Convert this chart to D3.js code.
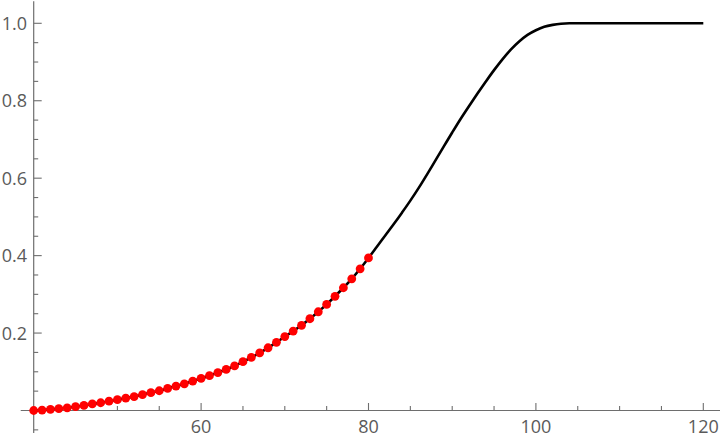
<!DOCTYPE html>
<html>
<head>
<meta charset="utf-8">
<script src="https://cdn.jsdelivr.net/npm/d3@7"></script>
<style>
  html, body { margin: 0; padding: 0; background: #fff; }
  svg { display: block; }
  text { font-family: "Open Sans", "Liberation Sans", sans-serif; }
</style>
</head>
<body>
<svg id="chart" width="720" height="440"></svg>
<script>
// Sample points (red dots)
const pointX = [40,41,42,43,44,45,46,47,48,49,50,51,52,53,54,55,56,57,58,59,60,
                61,62,63,64,65,66,67,68,69,70,71,72,73,74,75,76,77,78,79,80];
const pointY = [0.000,0.001,0.003,0.005,0.007,0.010,0.013,0.017,0.020,0.024,0.028,
                0.032,0.036,0.041,0.046,0.051,0.057,0.063,0.069,0.076,0.083,
                0.090,0.098,0.106,0.115,0.126,0.137,0.149,0.162,0.176,0.191,
                0.205,0.220,0.237,0.255,0.274,0.295,0.317,0.340,0.366,0.394];
// Continuation of the black curve beyond the samples
const extX = [81,82,83,84,85,86,87,88,89,90,91,92,93,94,95,96,97,98,99,100,
              101,102,103,104,105,106,110,115,120];
const extY = [0.423,0.452,0.481,0.511,0.542,0.575,0.610,0.646,0.682,0.718,
              0.753,0.786,0.818,0.849,0.879,0.907,0.932,0.953,0.970,0.982,
              0.991,0.996,0.999,1.000,1.000,1.000,1.000,1.000,1.000];
const xMajor = [60,80,100,120];
const xMajorLabels = ["60","80","100","120"];
const xMinor = [45,50,55,65,70,75,85,90,95,105,110,115];
const yMajor = [0.2,0.4,0.6,0.8,1.0];
const yMajorLabels = ["0.2","0.4","0.6","0.8","1.0"];
const yMinor = [-0.05,0.05,0.1,0.15,0.25,0.3,0.35,0.45,0.5,0.55,0.65,0.7,0.75,0.85,0.9,0.95];

const svg = d3.select("#chart");
const x = d3.scaleLinear().domain([40,120]).range([33.7,703.3]);
const y = d3.scaleLinear().domain([0,1]).range([410.5,23.3]);
const axisColor = "#6e6e6e";
const labelColor = "#5a5a5a";

const xAxisY = y(0), yAxisX = x(40);

// Axis lines
svg.append("line").attr("x1", x(38.45)).attr("x2", 720).attr("y1", xAxisY).attr("y2", xAxisY)
  .attr("stroke", axisColor).attr("stroke-width", 1.2);
svg.append("line").attr("x1", yAxisX).attr("x2", yAxisX).attr("y1", y(1.057)).attr("y2", y(-0.058))
  .attr("stroke", axisColor).attr("stroke-width", 1.2);

// X ticks
svg.selectAll(".xmaj").data(xMajor).enter().append("line")
  .attr("x1", d => x(d)).attr("x2", d => x(d)).attr("y1", xAxisY).attr("y2", xAxisY - 7.5)
  .attr("stroke", axisColor).attr("stroke-width", 1.1);
svg.selectAll(".xmin").data(xMinor).enter().append("line")
  .attr("x1", d => x(d)).attr("x2", d => x(d)).attr("y1", xAxisY).attr("y2", xAxisY - 4.5)
  .attr("stroke", axisColor).attr("stroke-width", 1.1);
svg.selectAll(".xlab").data(xMajor).enter().append("text")
  .attr("x", d => x(d)).attr("y", 433)
  .attr("text-anchor", "middle").attr("font-size", 18).attr("fill", labelColor)
  .text((d, i) => xMajorLabels[i]);

// Y ticks
svg.selectAll(".ymaj").data(yMajor).enter().append("line")
  .attr("x1", yAxisX).attr("x2", yAxisX + 8).attr("y1", d => y(d)).attr("y2", d => y(d))
  .attr("stroke", axisColor).attr("stroke-width", 1.1);
svg.selectAll(".ymin").data(yMinor).enter().append("line")
  .attr("x1", yAxisX).attr("x2", yAxisX + 4.5).attr("y1", d => y(d)).attr("y2", d => y(d))
  .attr("stroke", axisColor).attr("stroke-width", 1.1);
svg.selectAll(".ylab").data(yMajor).enter().append("text")
  .attr("x", 27).attr("y", d => y(d) + 6.5)
  .attr("text-anchor", "end").attr("font-size", 18).attr("fill", labelColor)
  .text((d, i) => yMajorLabels[i]);

// Black curve
const curveData = pointX.map((d, i) => [d, pointY[i]]).concat(extX.map((d, i) => [d, extY[i]]));
svg.append("path")
  .attr("d", d3.line().x(d => x(d[0])).y(d => y(d[1])).curve(d3.curveMonotoneX)(curveData))
  .attr("fill", "none").attr("stroke", "#000").attr("stroke-width", 2.6);

// Red points
svg.selectAll(".pt").data(pointX).enter().append("circle")
  .attr("cx", d => x(d)).attr("cy", (d, i) => y(pointY[i])).attr("r", 4.4)
  .attr("fill", "#ff0000");
</script>
</body>
</html>
